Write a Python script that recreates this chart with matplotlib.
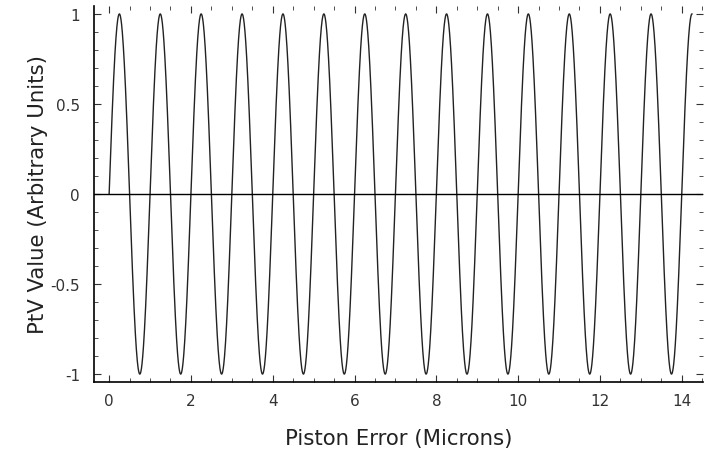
import numpy as np
import matplotlib
matplotlib.use("Agg")
import matplotlib.pyplot as plt
from matplotlib.ticker import MultipleLocator, FuncFormatter

plt.rcParams["font.family"] = ["DejaVu Sans"]
plt.rcParams["axes.unicode_minus"] = False

# --- values ---
x_start = 0.0        # curve starts at 0
x_end = 14.25        # curve ends near a peak
period = 1.0         # microns per fringe
amplitude = 1.0
x_ticks = [0, 2, 4, 6, 8, 10, 12, 14]
y_ticks = [-1, -0.5, 0, 0.5, 1]

piston = np.linspace(x_start, x_end, 3000)
ptv = amplitude * np.sin(2 * np.pi * piston / period)

# --- visualise ---
fig = plt.figure(figsize=(7.13, 4.52), dpi=100)
ax = fig.add_axes([94 / 713, 69 / 452, (703 - 94) / 713, (383 - 7) / 452])

ax.plot(piston, ptv, color="#222222", lw=1.0)
ax.axhline(0, color="black", lw=1.0)

ax.set_xlim(-0.37, 14.52)
ax.set_ylim(-1.044, 1.044)

ax.set_xticks(x_ticks)
ax.set_yticks(y_ticks)
ax.xaxis.set_minor_locator(MultipleLocator(0.5))
ax.yaxis.set_minor_locator(MultipleLocator(0.1))
ax.yaxis.set_major_formatter(FuncFormatter(lambda v, p: f"{v:g}"))

for side in ["top", "right"]:
    ax.spines[side].set_visible(False)
for side in ["left", "bottom"]:
    ax.spines[side].set_linewidth(1.2)

ax.tick_params(which="both", direction="in", top=True, right=True,
               labelsize=11, colors="#333333", labelcolor="#333333")
ax.tick_params(which="major", length=5, width=0.8)
ax.tick_params(which="minor", length=3, width=0.6)
ax.tick_params(axis="y", which="major", pad=10)
ax.tick_params(axis="x", which="major", pad=8)

ax.set_xlabel("Piston Error (Microns)", fontsize=15.3, color="#222222", labelpad=14)
ax.set_ylabel("PtV Value (Arbitrary Units)", fontsize=15.3, color="#222222", labelpad=2)

fig.savefig("out.png", dpi=100)
